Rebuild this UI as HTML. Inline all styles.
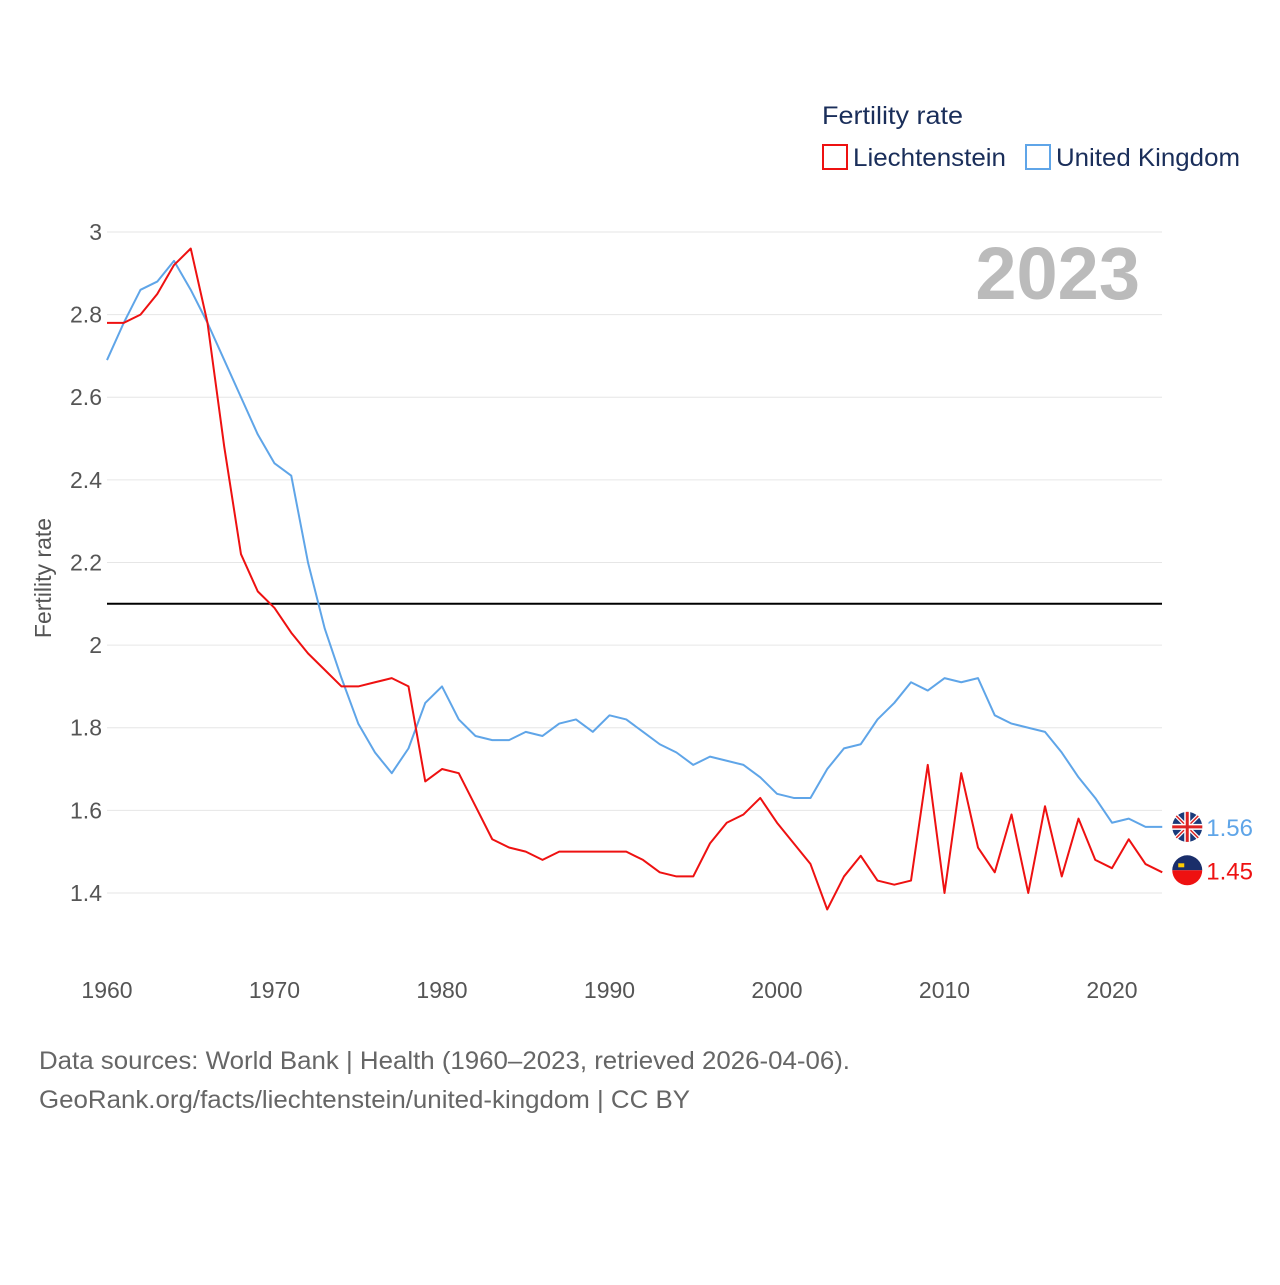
<!DOCTYPE html>
<html><head><meta charset="utf-8"><style>
html,body{margin:0;padding:0;background:#fff;}
body{width:1280px;height:1280px;overflow:hidden;font-family:"Liberation Sans",sans-serif;}
</style></head><body>
<svg id="chart" width="1280" height="1280" xmlns="http://www.w3.org/2000/svg" font-family="Liberation Sans, sans-serif">
<text x="822" y="124" font-size="25" fill="#1a2e5a" textLength="141" lengthAdjust="spacingAndGlyphs">Fertility rate</text>
<rect x="823" y="145" width="24" height="24" fill="none" stroke="#ee1111" stroke-width="2"/>
<text x="853" y="166" font-size="25" fill="#1a2e5a" textLength="153" lengthAdjust="spacingAndGlyphs">Liechtenstein</text>
<rect x="1026" y="145" width="24" height="24" fill="none" stroke="#5fa5e8" stroke-width="2"/>
<text x="1056" y="166" font-size="25" fill="#1a2e5a" textLength="184" lengthAdjust="spacingAndGlyphs">United Kingdom</text>
<text x="1140" y="299" font-size="74" font-weight="bold" fill="#bbbbbb" text-anchor="end">2023</text>
<text transform="translate(51,578) rotate(-90)" font-size="23" fill="#555" text-anchor="middle">Fertility rate</text>
<g id="grid"></g><g id="series"></g>
<text x="39" y="1069" font-size="25" fill="#666" textLength="811" lengthAdjust="spacingAndGlyphs">Data sources: World Bank | Health (1960–2023, retrieved 2026-04-06).</text>
<text x="39" y="1108" font-size="25" fill="#666" textLength="651" lengthAdjust="spacingAndGlyphs">GeoRank.org/facts/liechtenstein/united-kingdom | CC BY</text>
</svg>
<script>
const years=[];for(let y=1960;y<=2023;y++)years.push(y);
const liechtenstein=[2.78,2.78,2.80,2.85,2.92,2.96,2.78,2.48,2.22,2.13,2.09,2.03,1.98,1.94,1.90,1.90,1.91,1.92,1.90,1.67,1.70,1.69,1.61,1.53,1.51,1.50,1.48,1.50,1.50,1.50,1.50,1.50,1.48,1.45,1.44,1.44,1.52,1.57,1.59,1.63,1.57,1.52,1.47,1.36,1.44,1.49,1.43,1.42,1.43,1.71,1.40,1.69,1.51,1.45,1.59,1.40,1.61,1.44,1.58,1.48,1.46,1.53,1.47,1.45];
const uk=[2.69,2.78,2.86,2.88,2.93,2.86,2.78,2.69,2.60,2.51,2.44,2.41,2.20,2.04,1.92,1.81,1.74,1.69,1.75,1.86,1.90,1.82,1.78,1.77,1.77,1.79,1.78,1.81,1.82,1.79,1.83,1.82,1.79,1.76,1.74,1.71,1.73,1.72,1.71,1.68,1.64,1.63,1.63,1.70,1.75,1.76,1.82,1.86,1.91,1.89,1.92,1.91,1.92,1.83,1.81,1.80,1.79,1.74,1.68,1.63,1.57,1.58,1.56,1.56];
const yTicks=[1.4,1.6,1.8,2,2.2,2.4,2.6,2.8,3];
const xTicks=[1960,1970,1980,1990,2000,2010,2020];
const refValue=2.1;
const NS="http://www.w3.org/2000/svg";
const X=y=>107+(y-1960)*16.75;
const Y=v=>232+(3-v)*413.1;
function mk(tag,attrs,parent,txt){const e=document.createElementNS(NS,tag);for(const k in attrs)e.setAttribute(k,attrs[k]);if(txt!==undefined)e.textContent=txt;parent.appendChild(e);return e;}
const grid=document.getElementById('grid'),ser=document.getElementById('series');
yTicks.forEach(v=>{
 const l=mk('line',{x1:107,x2:1162,y1:Y(v),y2:Y(v),stroke:'#e6e6e6','stroke-width':1},grid);
 
 
 const t=mk('text',{x:102,y:Y(v)+8,'font-size':23,fill:'#555','text-anchor':'end'},grid,String(v));
 
 
});
xTicks.forEach(y=>{
 const t=mk('text',{x:X(y),y:998,'font-size':23,fill:'#555','text-anchor':'middle'},grid,String(y));
 
 
});
const ref=mk('line',{x1:107,x2:1162,y1:Y(refValue),y2:Y(refValue),stroke:'#000','stroke-width':2},grid);


function line(vals,color,name){
 const p=mk('polyline',{points:vals.map((v,i)=>X(years[i])+','+Y(v)).join(' '),fill:'none',stroke:color,'stroke-width':2,'stroke-linejoin':'round'},ser);
 
 
}
line(uk,'#5fa5e8','uk-line');
line(liechtenstein,'#ee1111','liechtenstein-line');
const lx=X(2023)+25;
const ukY=Y(uk[uk.length-1]),liY=Y(liechtenstein[liechtenstein.length-1])-2;
const g1=mk('g',{},ser);


mk('circle',{cx:lx,cy:ukY,r:15,fill:'#1a3a7a'},g1);
mk('path',{d:`M${lx-11} ${ukY-11}L${lx+11} ${ukY+11}M${lx+11} ${ukY-11}L${lx-11} ${ukY+11}`,stroke:'#fff','stroke-width':4},g1);
mk('path',{d:`M${lx-11} ${ukY-11}L${lx+11} ${ukY+11}M${lx+11} ${ukY-11}L${lx-11} ${ukY+11}`,stroke:'#d22','stroke-width':1.5},g1);
mk('path',{d:`M${lx-15} ${ukY}H${lx+15}M${lx} ${ukY-15}V${ukY+15}`,stroke:'#fff','stroke-width':6},g1);
mk('path',{d:`M${lx-15} ${ukY}H${lx+15}M${lx} ${ukY-15}V${ukY+15}`,stroke:'#d22','stroke-width':3},g1);
const t1=mk('text',{x:lx+19,y:ukY+9,'font-size':24,fill:'#5fa5e8'},ser,uk[uk.length-1].toFixed(2));


const g2=mk('g',{},ser);


mk('path',{d:`M${lx-15} ${liY}A15 15 0 0 1 ${lx+15} ${liY}Z`,fill:'#1a2e6a'},g2);
mk('path',{d:`M${lx-15} ${liY}A15 15 0 0 0 ${lx+15} ${liY}Z`,fill:'#e11'},g2);
mk('rect',{x:lx-9,y:liY-7,width:6,height:4,fill:'#fc0'},g2);
const t2=mk('text',{x:lx+19,y:liY+9,'font-size':24,fill:'#ee1111'},ser,liechtenstein[liechtenstein.length-1].toFixed(2));


</script>
</body></html>
